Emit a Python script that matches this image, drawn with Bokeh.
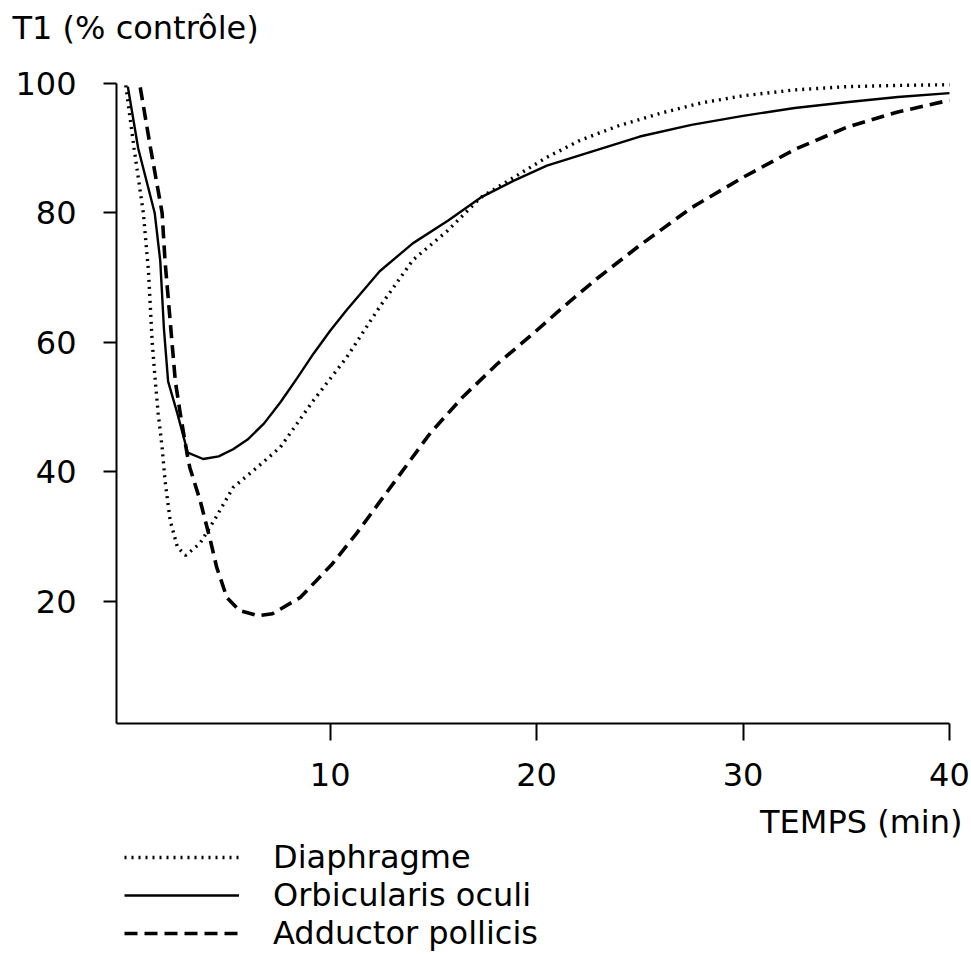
from bokeh.plotting import figure
from bokeh.layouts import column
from bokeh.models import Range1d, Legend, LegendItem, FixedTicker
from bokeh.embed import file_html
from bokeh.resources import INLINE

# ---- data ----
diaph_x = [0.1, 0.5, 0.95, 1.2, 1.38, 1.53, 1.67, 1.86, 2.0, 2.25, 2.6, 3.0, 3.7, 4.43,
           5.3, 6.46, 7.58, 9.18, 10.8, 12.4, 14.0, 15.7, 17.3, 18.9, 20.5, 22.1, 24.0,
           26.0, 28.0, 30.0, 32.5, 35.0, 37.5, 40.0]
diaph_y = [99.7, 90.0, 80.0, 71.0, 60.0, 54.0, 49.0, 43.8, 38.7, 32.5, 28.4, 27.1, 29.0, 32.8,
           37.6, 40.7, 43.8, 51.0, 57.7, 65.5, 72.7, 77.3, 82.4, 85.5, 88.6, 91.2, 93.5,
           95.4, 97.0, 98.1, 99.0, 99.5, 99.7, 99.8]

orbic_x = [0.2, 0.7, 1.5, 1.77, 1.95, 2.15, 2.6, 3.1, 3.85, 4.6, 5.3, 6.0, 6.8, 7.6, 8.4, 9.2,
           10.0, 10.8, 12.4, 14.0, 15.7, 17.3, 18.9, 20.5, 22.9, 25.0, 27.5, 30.0, 32.5,
           35.0, 37.5, 40.0]
orbic_y = [99.5, 90.0, 80.0, 72.6, 62.0, 54.0, 49.0, 43.0, 42.0, 42.4, 43.5, 45.0, 47.5, 50.8, 54.5, 58.3,
           61.8, 65.0, 71.0, 75.3, 78.8, 82.4, 85.0, 87.3, 89.7, 91.8, 93.6, 95.0, 96.2,
           97.1, 97.9, 98.5]

adduc_x = [0.8, 1.3, 1.86, 2.0, 2.5, 2.74, 3.07, 3.2, 3.7, 4.2, 4.5, 5.0, 5.6, 6.5, 7.2, 8.55,
           10.1, 11.3, 13.4, 14.85, 16.4, 18.1, 19.7, 21.3, 22.9, 25.0, 27.5, 30.0, 32.5,
           35.0, 37.5, 40.0]
adduc_y = [99.4, 90.0, 80.0, 72.6, 54.0, 49.0, 42.8, 40.7, 35.6, 29.4, 25.3, 20.6, 18.6, 17.8, 18.1, 20.6,
           25.8, 30.6, 39.7, 46.0, 51.5, 56.7, 61.0, 65.5, 69.8, 75.0, 80.8, 85.5, 89.8,
           93.2, 95.6, 97.4]

x_ticks = [10, 20, 30, 40]
y_ticks = [20, 40, 60, 80, 100]

labels = ["Diaphragme", "Orbicularis oculi", "Adductor pollicis"]
y_title = "T1 (% contrôle)"
x_title = "TEMPS (min)"

FONT = "DejaVu Sans"
FS = "32px"
W = 971
LEFT, RIGHT = 116, 8

STYLES = [dict(line_color="black", line_width=3.4, line_dash="2 5"),
          dict(line_color="black", line_width=2.4),
          dict(line_color="black", line_width=3.6, line_dash="13 7")]
SERIES = [(diaph_x, diaph_y), (orbic_x, orbic_y), (adduc_x, adduc_y)]


def strip(height, top, bottom, title, align, offset, y_range=None):
    f = figure(width=W, height=height, output_backend="svg", toolbar_location=None,
               title=title, x_range=Range1d(LEFT, W - RIGHT),
               y_range=y_range or Range1d(-1, 0),
               x_axis_location=None, y_axis_location=None,
               min_border_left=LEFT, min_border_right=RIGHT,
               min_border_top=top, min_border_bottom=bottom)
    f.outline_line_color = None
    f.grid.visible = False
    f.background_fill_color = "white"
    f.border_fill_color = "white"
    f.title.align = align
    f.title.offset = offset
    f.title.standoff = 0
    f.title.text_font = FONT
    f.title.text_font_size = FS
    f.title.text_font_style = "normal"
    f.title.text_color = "black"
    return f


# ---- top strip: y title ----
H0 = 47
p0 = strip(H0, H0 - 1, 0, y_title, "left", -104)

# ---- main chart ----
H1 = 753
p = figure(width=W, height=H1, output_backend="svg", toolbar_location=None,
           x_range=Range1d(-0.35, 40.68), y_range=Range1d(1.15, 100.3),
           min_border_left=LEFT, min_border_right=RIGHT, min_border_top=34, min_border_bottom=77)
p.outline_line_color = None
p.grid.visible = False
p.background_fill_color = "white"
p.border_fill_color = "white"

for (xs, ys), st in zip(SERIES, STYLES):
    p.line(xs, ys, **st)

for ax in (p.xaxis[0], p.yaxis[0]):
    ax.axis_line_color = "black"
    ax.axis_line_width = 2
    ax.major_tick_line_color = "black"
    ax.major_tick_line_width = 2
    ax.major_tick_in = 0
    ax.minor_tick_line_color = None
    ax.major_label_text_font = FONT
    ax.major_label_text_font_size = FS
    ax.major_label_text_color = "black"

p.xaxis.ticker = FixedTicker(ticks=x_ticks)
p.yaxis.ticker = FixedTicker(ticks=y_ticks)
p.xaxis.bounds = (-0.35, 40)
p.yaxis.bounds = (1.15, 100)
p.xaxis.major_tick_out = 17
p.yaxis.major_tick_out = 13
p.xaxis.major_label_standoff = 22
p.yaxis.major_label_standoff = 27

# ---- bottom strip: x title (as the strip's title) + legend ----
H2 = 955 - H0 - H1
p2 = strip(H2, 0, 0, x_title, "right", 1, y_range=Range1d(-H2, 0))
# legend proxies: same series, lying outside this strip's ranges
proxies = [p2.line(xs, ys, **st) for (xs, ys), st in zip(SERIES, STYLES)]
legend = Legend(items=[LegendItem(label=lab, renderers=[r]) for lab, r in zip(labels, proxies)],
                location=(8, 3), orientation="vertical",
                glyph_width=115, glyph_height=20, label_standoff=34, spacing=-8,
                padding=0, margin=0, border_line_color=None, background_fill_alpha=0,
                label_text_font=FONT, label_text_font_size=FS, label_text_color="black")
p2.add_layout(legend, "center")

layout = column(p0, p, p2, spacing=0)
open("out.html", "w").write(file_html(layout, INLINE))
